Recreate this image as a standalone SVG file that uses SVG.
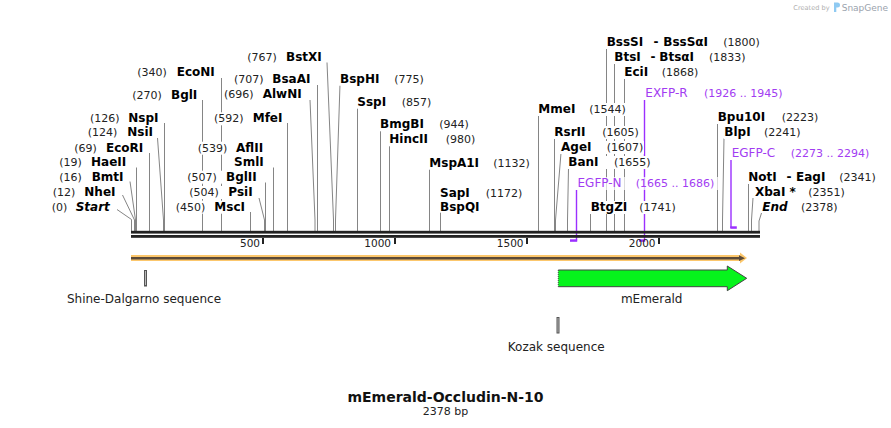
<svg xmlns="http://www.w3.org/2000/svg" width="891" height="428" viewBox="0 0 891 428">
<style>
.ln{stroke:#858585;stroke-width:1;fill:none}
.pl{stroke:#9b30ff;stroke-width:1.4;fill:none}
.pb{fill:#9b30ff}
.bg{fill:#fff}
.bgp{fill:#fff;fill-opacity:0.7}
.nm{font-family:"DejaVu Sans",Verdana,sans-serif;font-size:12px;font-weight:bold;fill:#000}
.it{font-style:italic}
.ps{font-family:"DejaVu Sans",Verdana,sans-serif;font-size:11px;fill:#222}
.pn{font-family:"DejaVu Sans",Verdana,sans-serif;font-size:12px;fill:#a23cf2}
.pp{font-family:"DejaVu Sans",Verdana,sans-serif;font-size:11px;fill:#a23cf2}
.tk{font-family:"DejaVu Sans",Verdana,sans-serif;font-size:10.5px;fill:#222;text-anchor:end}
.ft{font-family:"DejaVu Sans",Verdana,sans-serif;font-size:12px;fill:#222;text-anchor:middle}
.ax{fill:#222}
</style>

<!-- primer connectors (behind axis) -->
<g id="primer-lines">
  <path class="pl" d="M576.5,190 V240.5"/>
  <rect class="pb" x="570" y="239.3" width="7.2" height="2.5"/>
  <path class="pl" d="M644.5,100 V240.5"/>
  <rect class="pb" x="639" y="239.3" width="6.2" height="2.5"/>
  <path class="pl" d="M731,160 V228"/>
  <rect class="pb" x="730.3" y="226.3" width="6.5" height="2.5"/>
</g>

<g id="connectors">
  <path class="ln" d="M117,209.5 L131.5,219.5 V231"/>
  <path class="ln" d="M122.5,195 L134.5,220 V231"/>
  <path class="ln" d="M130,181.5 L135.5,220 V231"/>
  <path class="ln" d="M136.5,167.5 V231"/>
  <path class="ln" d="M149.5,153 V231"/>
  <path class="ln" d="M157.5,138 L163.5,220 V231"/>
  <path class="ln" d="M164.5,123 V231"/>
  <path class="ln" d="M202.5,100 V231"/>
  <path class="ln" d="M221.5,78 V231"/>
  <path class="ln" d="M250.5,212 V231"/>
  <path class="ln" d="M259,198 L264.5,220 V231"/>
  <path class="ln" d="M265.5,182.5 V231"/>
  <path class="ln" d="M273.5,167.5 V231"/>
  <path class="ln" d="M287.5,123 V231"/>
  <path class="ln" d="M310,100 L315,220 V231"/>
  <path class="ln" d="M317.5,85 V231"/>
  <path class="ln" d="M327,62.5 L333.5,220 V231"/>
  <path class="ln" d="M340,84 L335.5,220 V231"/>
  <path class="ln" d="M357.5,108 V231"/>
  <path class="ln" d="M380.5,130 V231"/>
  <path class="ln" d="M389.5,145 V231"/>
  <path class="ln" d="M429.5,168 V231"/>
  <path class="ln" d="M440.5,212 V231"/>
  <path class="ln" d="M538.5,115 V231"/>
  <path class="ln" d="M554.5,138 V231"/>
  <path class="ln" d="M561,153 L555.5,220 V231"/>
  <path class="ln" d="M568.5,168 L567.5,220 V231"/>
  <path class="ln" d="M590.5,213 V231"/>
  <path class="ln" d="M606.5,48 V231"/>
  <path class="ln" d="M614.5,63 V231"/>
  <path class="ln" d="M624.5,78 V231"/>
  <path class="ln" d="M717.5,123 V231"/>
  <path class="ln" d="M724,138 L722.5,220 V231"/>
  <path class="ln" d="M748.5,184 V231"/>
  <path class="ln" d="M753,198 L751.5,220 V231"/>
  <path class="ln" d="M761.5,213 L759,221 V231"/>
</g>

<!-- sequence axis -->
<g id="axis">
  <rect class="ax" x="131" y="230.8" width="629" height="2.8"/>
  <rect class="ax" x="131" y="235" width="629" height="2.8"/>
  <rect class="ax" x="262" y="238" width="2" height="6"/>
  <rect class="ax" x="394" y="238" width="2" height="6"/>
  <rect class="ax" x="526" y="238" width="2" height="6"/>
  <rect class="ax" x="658" y="238" width="2" height="6"/>
  <text class="tk" x="260" y="247">500</text>
  <text class="tk" x="391" y="247">1000</text>
  <text class="tk" x="523.5" y="247">1500</text>
  <text class="tk" x="655.5" y="247">2000</text>
</g>

<!-- left cluster -->
<g id="site-start"><rect class="bg" x="50.5" y="200.5" width="60" height="13"/><text class="ps" x="51.7" y="210.7">(0)</text><text class="nm it" x="75.7" y="210.7">Start</text></g>
<g id="site-nhei"><rect class="bg" x="51.5" y="186" width="65" height="13"/><text class="ps" x="52.7" y="196">(12)</text><text class="nm" x="84.3" y="196">NheI</text></g>
<g id="site-bmti"><rect class="bg" x="58" y="170.7" width="66.5" height="13"/><text class="ps" x="59.3" y="180.7">(16)</text><text class="nm" x="91.7" y="180.7">BmtI</text></g>
<g id="site-haeii"><rect class="bg" x="58" y="155.7" width="72" height="13"/><text class="ps" x="59.3" y="165.7">(19)</text><text class="nm" x="91" y="165.7">HaeII</text></g>
<g id="site-ecori"><rect class="bg" x="73" y="141.7" width="72" height="13"/><text class="ps" x="74.3" y="151.7">(69)</text><text class="nm" x="106" y="151.7">EcoRI</text></g>
<g id="site-nsii"><rect class="bg" x="86.5" y="125.7" width="66" height="13"/><text class="ps" x="87.7" y="135.7">(124)</text><text class="nm" x="127.3" y="135.7">NsiI</text></g>
<g id="site-nspi"><rect class="bg" x="89" y="112.3" width="71" height="13"/><text class="ps" x="90" y="122.3">(126)</text><text class="nm" x="128.3" y="122.3">NspI</text></g>
<g id="site-bgli"><rect class="bg" x="131" y="89" width="68" height="13"/><text class="ps" x="132.3" y="99">(270)</text><text class="nm" x="171" y="99">BglI</text></g>
<g id="site-econi"><rect class="bg" x="136" y="65.7" width="80.5" height="13"/><text class="ps" x="137.3" y="75.7">(340)</text><text class="nm" x="176.7" y="75.7">EcoNI</text></g>
<g id="site-msci"><rect class="bg" x="174.5" y="200.7" width="71" height="13"/><text class="ps" x="175.7" y="210.7">(450)</text><text class="nm" x="214.3" y="210.7">MscI</text></g>
<g id="site-psii"><rect class="bg" x="188" y="186" width="66" height="13"/><text class="ps" x="189.3" y="196">(504)</text><text class="nm" x="228.3" y="196">PsiI</text></g>
<g id="site-bglii"><rect class="bg" x="186" y="170.7" width="75" height="13"/><text class="ps" x="187.3" y="180.7">(507)</text><text class="nm" x="226" y="180.7">BglII</text></g>
<g id="site-smli"><rect class="bg" x="233" y="155.7" width="34.5" height="13"/><text class="nm" x="234" y="165.7">SmlI</text></g>
<g id="site-aflii"><rect class="bg" x="196.5" y="141.7" width="71" height="13"/><text class="ps" x="197.7" y="151.7">(539)</text><text class="nm" x="236" y="151.7">AflII</text></g>
<g id="site-mfei"><rect class="bg" x="213" y="112.3" width="70" height="13"/><text class="ps" x="214" y="122.3">(592)</text><text class="nm" x="252.7" y="122.3">MfeI</text></g>
<g id="site-alwni"><rect class="bg" x="223" y="88" width="81" height="13"/><text class="ps" x="224" y="98">(696)</text><text class="nm" x="262.7" y="98">AlwNI</text></g>
<g id="site-bsaai"><rect class="bg" x="233" y="72.7" width="79.5" height="13"/><text class="ps" x="234" y="82.7">(707)</text><text class="nm" x="272.3" y="82.7">BsaAI</text></g>
<g id="site-bstxi"><rect class="bg" x="246" y="50.7" width="77.5" height="13"/><text class="ps" x="247.3" y="60.7">(767)</text><text class="nm" x="286" y="60.7">BstXI</text></g>

<!-- middle cluster -->
<g id="site-bsphi"><rect class="bg" x="339" y="72.7" width="86" height="13"/><text class="nm" x="340" y="82.7">BspHI</text><text class="ps" x="394.3" y="82.7">(775)</text></g>
<g id="site-sspi"><rect class="bg" x="356.5" y="95.7" width="76" height="13"/><text class="nm" x="357.3" y="105.7">SspI</text><text class="ps" x="401.7" y="105.7">(857)</text></g>
<g id="site-bmgbi"><rect class="bg" x="379" y="118.3" width="91" height="13"/><text class="nm" x="380" y="128.3">BmgBI</text><text class="ps" x="439.3" y="128.3">(944)</text></g>
<g id="site-hincii"><rect class="bg" x="388.5" y="133.3" width="88" height="13"/><text class="nm" x="389.3" y="143.3">HincII</text><text class="ps" x="445.7" y="143.3">(980)</text></g>
<g id="site-mspa1i"><rect class="bg" x="428.5" y="156.7" width="102.5" height="13"/><text class="nm" x="429.3" y="166.7">MspA1I</text><text class="ps" x="493.3" y="166.7">(1132)</text></g>
<g id="site-sapi"><rect class="bg" x="439" y="186.7" width="84" height="26"/><text class="nm" x="440" y="196.7">SapI</text><text class="ps" x="485.7" y="196.7">(1172)</text><text class="nm" x="440" y="210.7">BspQI</text></g>

<!-- right cluster -->
<g id="site-mmei"><rect class="bg" x="537.5" y="103" width="89.5" height="13"/><text class="nm" x="538.3" y="113">MmeI</text><text class="ps" x="589.3" y="113">(1544)</text></g>
<g id="site-rsrii"><rect class="bg" x="553.5" y="126" width="86.5" height="13"/><text class="nm" x="554.3" y="136">RsrII</text><text class="ps" x="602.3" y="136">(1605)</text></g>
<g id="site-agei"><rect class="bg" x="560" y="141" width="84" height="13"/><text class="nm" x="561" y="151">AgeI</text><text class="ps" x="606.7" y="151">(1607)</text></g>
<g id="site-bani"><rect class="bg" x="567.5" y="156" width="84" height="13"/><text class="nm" x="568.3" y="166">BanI</text><text class="ps" x="614" y="166">(1655)</text></g>
<g id="primer-egfp-n"><rect class="bgp" x="575.7" y="177" width="143" height="13"/><text class="pn" x="577.5" y="187">EGFP-N</text><text class="pp" x="635.7" y="187">(1665 .. 1686)</text></g>
<g id="site-btgzi"><rect class="bg" x="590" y="201" width="87" height="13"/><text class="nm" x="590.7" y="211">BtgZI</text><text class="ps" x="639.3" y="211">(1741)</text></g>
<g id="site-bsssi"><rect class="bg" x="606" y="36" width="155" height="13"/><text class="nm" x="606.7" y="46">BssSI</text><text class="nm" x="653.5" y="46">-</text><text class="nm" x="663.3" y="46">BssSαI</text><text class="ps" x="723.3" y="46">(1800)</text></g>
<g id="site-btsi"><rect class="bg" x="613.5" y="51" width="133" height="13"/><text class="nm" x="614.3" y="61">BtsI</text><text class="nm" x="650.5" y="61">-</text><text class="nm" x="659.3" y="61">BtsαI</text><text class="ps" x="709" y="61">(1833)</text></g>
<g id="site-ecii"><rect class="bg" x="623.5" y="66" width="75.5" height="13"/><text class="nm" x="624.3" y="76">EciI</text><text class="ps" x="661.7" y="76">(1868)</text></g>
<g id="primer-exfp-r"><rect class="bgp" x="643.5" y="87" width="142.5" height="13"/><text class="pn" x="645.3" y="97">EXFP-R</text><text class="pp" x="704" y="97">(1926 .. 1945)</text></g>
<g id="site-bpu10i"><rect class="bg" x="717" y="111" width="102" height="13"/><text class="nm" x="717.7" y="121">Bpu10I</text><text class="ps" x="781.7" y="121">(2223)</text></g>
<g id="site-blpi"><rect class="bg" x="723.5" y="126" width="78" height="13"/><text class="nm" x="724.3" y="136">BlpI</text><text class="ps" x="764" y="136">(2241)</text></g>
<g id="primer-egfp-c"><rect class="bgp" x="731" y="147" width="141.5" height="13"/><text class="pn" x="731.7" y="157">EGFP-C</text><text class="pp" x="790.7" y="157">(2273 .. 2294)</text></g>
<g id="site-noti"><rect class="bg" x="748" y="171" width="128.5" height="13"/><text class="nm" x="748.3" y="181">NotI</text><text class="nm" x="786.5" y="181">-</text><text class="nm" x="796" y="181">EagI</text><text class="ps" x="839.3" y="181">(2341)</text></g>
<g id="site-xbai"><rect class="bg" x="754.5" y="186" width="91" height="13"/><text class="nm" x="755" y="196">XbaI *</text><text class="ps" x="808.3" y="196">(2351)</text></g>
<g id="site-end"><rect class="bg" x="762" y="201" width="76" height="13"/><text class="nm it" x="762.3" y="211">End</text><text class="ps" x="801" y="211">(2378)</text></g>

<!-- ORF bar -->
<g id="orf">
  <path d="M131,255 H740 V252.5 L747,258 L740,263.5 V261 H131 Z" fill="#fcc76c"/>
  <path d="M131,258.2 H741" stroke="#5b4a38" stroke-width="2.4"/>
  <path d="M739,255.3 L745,258.2 L739,261.1 Z" fill="#5b4a38"/>
</g>

<!-- features -->
<g id="feature-shine-dalgarno">
  <rect x="144.5" y="270.5" width="2" height="15.5" fill="#b8b8b8" stroke="#555" stroke-width="1"/>
  <text class="ft" x="144" y="303.3">Shine-Dalgarno sequence</text>
</g>
<g id="feature-memerald">
  <path d="M558.3,270 H727.3 V266 L746.7,278.3 L727.3,290.7 V286.7 H558.3 Z" fill="#06f41c"/>
  <path d="M558.3,270 H727.3 V266 L746.7,278.3 L727.3,290.7 V286.7 H558.3" fill="none" stroke="#444" stroke-width="1"/>
  <path d="M558.3,270 V286.7" stroke="#444" stroke-width="1" stroke-dasharray="1,1"/>
  <text class="ft" x="651.7" y="303.3">mEmerald</text>
</g>
<g id="feature-kozak">
  <rect x="557" y="317.5" width="2" height="15.5" fill="#b8b8b8" stroke="#555" stroke-width="1"/>
  <text class="ft" x="556.2" y="350.7">Kozak sequence</text>
</g>

<!-- title -->
<g id="title">
  <text x="445.5" y="401.5" text-anchor="middle" font-family="DejaVu Sans, Verdana, sans-serif" font-size="14" font-weight="bold" fill="#111">mEmerald-Occludin-N-10</text>
  <text x="445.5" y="415" text-anchor="middle" font-family="DejaVu Sans, Verdana, sans-serif" font-size="11" fill="#222">2378 bp</text>
</g>

<!-- watermark -->
<g id="watermark">
  <text x="793.3" y="10" font-family="DejaVu Sans, sans-serif" font-size="6.6" fill="#b0b0b0">Created by</text>
  <path d="M834,2.5 H837.5 Q840,2.5 840,5 Q840,7.5 837.5,7.5 H836.3 V12 H834 Z" fill="#8fcaf2"/>
  <text x="841.7" y="11" font-family="DejaVu Sans, sans-serif" font-size="9" fill="#9aa3ad">SnapGene</text>
</g>
</svg>
